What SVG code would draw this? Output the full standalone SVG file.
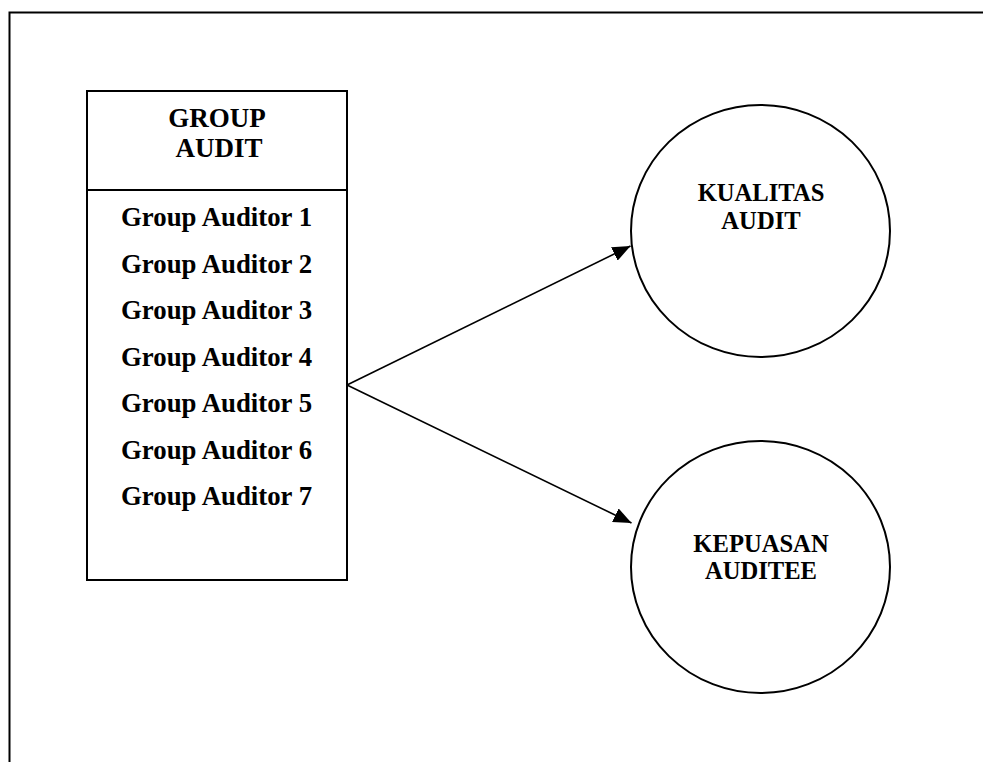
<svg xmlns="http://www.w3.org/2000/svg" width="983" height="762" viewBox="0 0 983 762">
<style>
.frame{fill:none;stroke:#000;stroke-width:2}
.box{fill:#fff;stroke:#000;stroke-width:2}
.t{font-family:"Liberation Serif","Times New Roman",serif;font-weight:bold;fill:#000}
.list{font-size:26.8px}
.title{font-size:27px;text-anchor:middle}
.ct{font-size:24.6px;text-anchor:middle}
.conn{stroke:#000;stroke-width:1.6;fill:none;marker-end:url(#ah)}
</style>
<defs>
<marker id="ah" markerUnits="userSpaceOnUse" markerWidth="18" markerHeight="15" viewBox="0 0 18 15" refX="18" refY="7.5" orient="auto">
<path d="M0,0 L18,7.5 L0,15 z" fill="#000"/>
</marker>
</defs>
<rect width="983" height="762" fill="#fff"/>
<path class="frame" d="M9.5,762 V12.5 H983"/>
<g id="group-audit">
<rect class="box" x="87" y="91" width="260" height="489"/>
<line x1="87" y1="190" x2="347" y2="190" stroke="#000" stroke-width="2"/>
<text class="t title" x="217" y="127">GROUP</text>
<text class="t title" x="219" y="157">AUDIT</text>
<text class="t list" x="121" y="226">Group Auditor 1</text>
<text class="t list" x="121" y="272.5">Group Auditor 2</text>
<text class="t list" x="121" y="319">Group Auditor 3</text>
<text class="t list" x="121" y="365.5">Group Auditor 4</text>
<text class="t list" x="121" y="412">Group Auditor 5</text>
<text class="t list" x="121" y="458.5">Group Auditor 6</text>
<text class="t list" x="121" y="505">Group Auditor 7</text>
</g>
<g id="kualitas-audit">
<ellipse class="box" cx="760.5" cy="231" rx="129.5" ry="126"/>
<text class="t ct" x="761" y="201">KUALITAS</text>
<text class="t ct" x="761" y="228.5">AUDIT</text>
</g>
<g id="kepuasan-auditee">
<ellipse class="box" cx="760.5" cy="567" rx="129.5" ry="126"/>
<text class="t ct" x="761" y="552">KEPUASAN</text>
<text class="t ct" x="761" y="579">AUDITEE</text>
</g>
<g id="connectors">
<line class="conn" x1="347" y1="385" x2="630.5" y2="246"/>
<line class="conn" x1="347" y1="385" x2="631.5" y2="523"/>
</g>
</svg>
